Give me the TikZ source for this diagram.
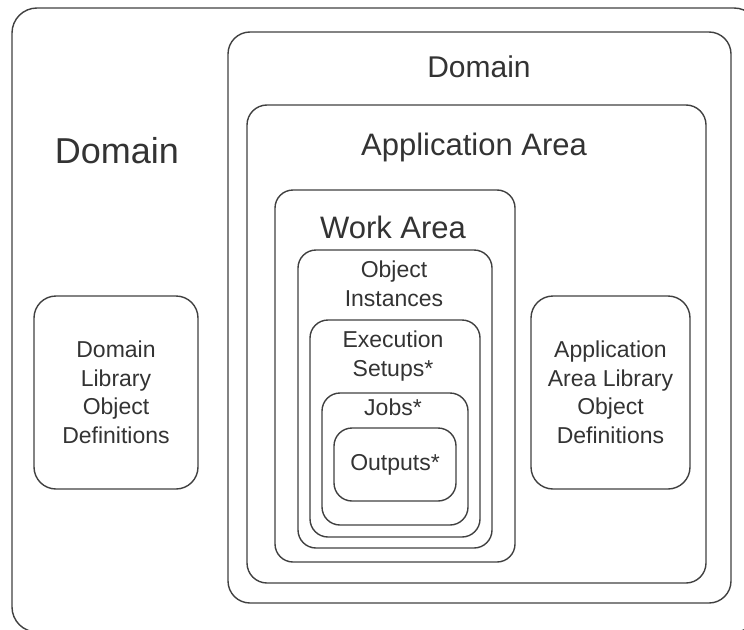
\documentclass[tikz,border=0pt]{standalone}
\usepackage{fontspec}
\setmainfont{Liberation Sans}
\usetikzlibrary{positioning}
\tikzset{
  % Common looks for the nested areas and their captions
  area/.style={draw=black!75, line width=1.4pt, rounded corners=18pt, inner sep=0pt},
  caption/.style={text=black!80, inner sep=0pt, anchor=base, align=center}
}

\begin{document}
\begin{tikzpicture}[x=1pt, y=-1pt]
    \useasboundingbox (0,0) rectangle (744,629);
    % Define styles
    \tikzstyle{bigtitle} = [caption, font=\fontsize{36}{43}\selectfont]
    \tikzstyle{midtitle} = [caption, font=\fontsize{31}{37}\selectfont]
    \tikzstyle{smalltext} = [caption, font=\fontsize{23}{28.5}\selectfont]

    % Place areas
    \node [area, rounded corners=25pt, minimum width=747pt, minimum height=624pt] (outer) at (385.5,320) {};
    \node [area, rounded corners=22pt, minimum width=503pt, minimum height=571pt] (domain) at (479.5,317.5) {};
    \node [area, rounded corners=20pt, minimum width=459pt, minimum height=478pt] (app) at (476.5,344) {};
    \node [area, minimum width=240pt, minimum height=372pt] (work) at (395,376) {};
    \node [area, minimum width=194pt, minimum height=298pt] (objects) at (395,399) {};
    \node [area, minimum width=170pt, minimum height=217pt] (setups) at (395,428.5) {};
    \node [area, minimum width=146pt, minimum height=132pt] (jobs) at (395,459) {};
    \node [area, minimum width=122pt, minimum height=73pt, smalltext, anchor=center] (outputs) at (395,464.5) {Outputs*};
    \node [area, rounded corners=22pt, minimum width=164pt, minimum height=193pt, smalltext, anchor=center] (domlib) at (116,392.5) {Domain\\Library\\Object\\Definitions};
    \node [area, rounded corners=22pt, minimum width=159pt, minimum height=193pt, smalltext, anchor=center] (applib) at (610.5,392.5) {Application\\Area Library\\Object\\Definitions};

    % Place captions (multi-line ones sit on their last line)
    \node [bigtitle] (outertitle) at (117,163) {Domain};
    \node [midtitle, font=\fontsize{30}{36}\selectfont] (domaintitle) at (479,77) {Domain};
    \node [midtitle] (apptitle) at (474,155) {Application Area};
    \node [midtitle] (worktitle) at (393,238) {Work Area};
    \node [smalltext] (objtitle) at (394,306) {Object\\Instances};
    \node [smalltext] (setuptitle) at (393,376) {Execution\\Setups*};
    \node [smalltext] (jobtitle) at (393,415) {Jobs*};
\end{tikzpicture}
\end{document}
